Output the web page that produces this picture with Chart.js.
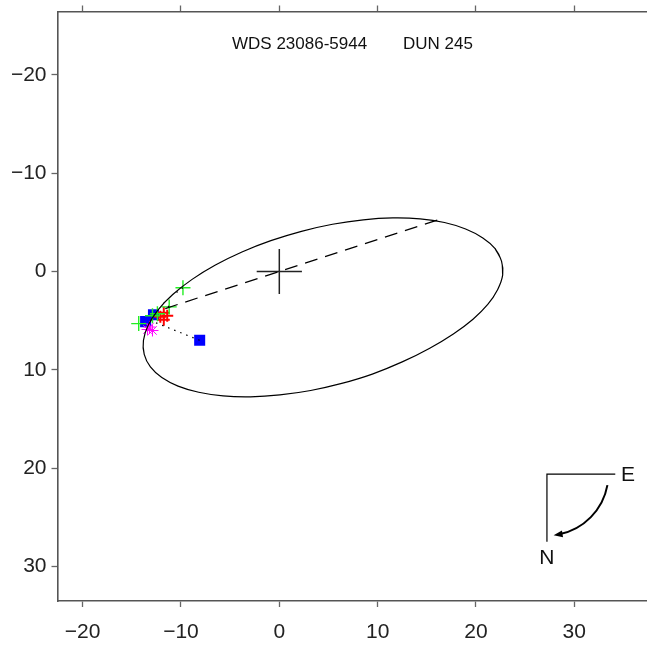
<!DOCTYPE html>
<html><head><meta charset="utf-8">
<script src="https://cdn.jsdelivr.net/npm/chart.js@4/dist/chart.umd.min.js"></script>
<style>html,body{margin:0;padding:0;overflow:hidden;background:#fff}#wrap{position:absolute;left:0;top:0;width:660px;height:650px}</style>
</head><body><div id="wrap"><canvas id="c"></canvas></div>
<script>
// tick labels
const xTicks = [-20, -10, 0, 10, 20, 30];
const yTicks = [-20, -10, 0, 10, 20, 30];
const titleLeft = "WDS 23086-5944";
const titleRight = "DUN 245";

// apparent orbit; first/last points overlap to close the loop smoothly
const orbitX = [21.95,22.6,22.72,22.2,21.2,19.7,17.7,15.3,12.5,9.46,6.35,3.19,0.06,-2.94,-5.72,-8.20,-10.30,-11.95,-13.11,-13.74,-13.82,-13.35,-12.35,-10.84,-8.87,-6.50,-3.80,-0.86,2.25,5.41,8.54,11.54,14.32,16.80,18.95,20.7,21.95,22.6,22.72];
const orbitY = [-2.33,-1.05,0.35,1.85,3.35,4.85,6.35,7.8,9.2,10.44,11.39,12.11,12.56,12.75,12.66,12.29,11.66,10.79,9.71,8.43,7.02,5.50,3.92,2.34,0.80,-0.66,-1.99,-3.14,-4.09,-4.81,-5.26,-5.45,-5.36,-4.99,-4.33,-3.42,-2.33,-1.05,0.35];

// line of nodes
const nodeX = [-11.6, 16.11];
const nodeY = [3.77, -5.24];

// primary star cross
const crossHX = [-2.3, 2.3], crossHY = [0, 0];
const crossVX = [0, 0], crossVY = [-2.3, 2.3];

// observations
const blueX = [-13.6, -12.8, -8.1];
const blueY = [5.1, 4.4, 7.0];
const greenX = [-9.8, -11.2, -14.3, -12.9, -12.4];
const greenY = [1.65, 3.6, 5.3, 4.5, 4.3];
const redX = [-11.75, -11.75, -11.4, -12.1];
const redY = [4.2, 4.9, 4.5, 4.6];
const magX = [-13.2, -12.9, -13.4];
const magY = [5.65, 6.0, 5.9];

// O-C residual segments
const ocX = [[-8.1, -13.1], [-9.8, -10.6], [-11.2, -11.8]];
const ocY = [[7.0, 5.0], [1.65, 2.25], [3.6, 3.2]];

// orientation marker anchor (data units)
const compassCorner = [27.22, 20.61];
const compassEnds = [34.17, 27.5];

const pts = (xs, ys) => xs.map((v, i) => ({x: v, y: ys[i]}));
const minus = v => v < 0 ? '\u2212' + Math.abs(v) : String(v);

const datasets = [
  {data: pts(orbitX, orbitY), showLine: true, tension: 0.4, borderColor: '#000', borderWidth: 1.2, pointRadius: 0, order: 1},
  {data: pts(nodeX, nodeY), showLine: true, borderColor: '#000', borderWidth: 1.2, borderDash: [13, 8], pointRadius: 0, order: 1},
  {data: pts(crossHX, crossHY), showLine: true, borderColor: '#222', borderWidth: 1.5, pointRadius: 0, order: 1},
  {data: pts(crossVX, crossVY), showLine: true, borderColor: '#222', borderWidth: 1.5, pointRadius: 0, order: 1},
  {data: pts(blueX, blueY), pointStyle: 'rect', pointRadius: 7.8, backgroundColor: '#0000ff', borderColor: '#0000ff', borderWidth: 0, order: 6},
  {data: pts(magX, magY), pointStyle: 'star', pointRadius: 6, borderColor: '#ff00ff', borderWidth: 1, order: 5},
  {data: pts(redX, redY), pointStyle: 'cross', pointRadius: 6, borderColor: '#ff0000', borderWidth: 2, order: 4},
  {data: pts(greenX, greenY), pointStyle: 'cross', pointRadius: 7.5, borderColor: '#22ee22', borderWidth: 1.4, order: 3},
];
ocX.forEach((xs, i) => datasets.push({data: pts(xs, ocY[i]), showLine: true, borderColor: '#000', borderWidth: 1.2, borderDash: [1.5, 5], pointRadius: 0, order: 2}));

const overlay = {
  id: 'overlay',
  afterDraw(chart) {
    const {ctx, scales: {x, y}} = chart;
    ctx.save();
    ctx.fillStyle = '#111';
    ctx.font = '17px "Liberation Sans", Arial, sans-serif';
    ctx.textBaseline = 'alphabetic';
    ctx.textAlign = 'left';
    ctx.fillText(titleLeft, 232, 48.5);
    ctx.fillText(titleRight, 403, 48.5);
    // compass
    const cx = x.getPixelForValue(compassCorner[0]), cy = y.getPixelForValue(compassCorner[1]);
    const ex = x.getPixelForValue(compassEnds[0]), ny = y.getPixelForValue(compassEnds[1]);
    ctx.strokeStyle = '#000'; ctx.lineWidth = 1.2;
    ctx.beginPath(); ctx.moveTo(ex, cy); ctx.lineTo(cx, cy); ctx.lineTo(cx, ny); ctx.stroke();
    const r = 61.5, a0 = 10.4 * Math.PI / 180, a1 = 78.5 * Math.PI / 180, a2 = 81 * Math.PI / 180;
    ctx.lineWidth = 2;
    ctx.beginPath(); ctx.arc(cx, cy, r, a0, a1); ctx.stroke();
    const tx = cx + r * Math.cos(a2), ty = cy + r * Math.sin(a2);
    const dx = -Math.sin(a2), dy = Math.cos(a2);
    const px = -dy, py = dx;
    ctx.fillStyle = '#000';
    ctx.beginPath();
    ctx.moveTo(tx + dx * 3, ty + dy * 3);
    ctx.lineTo(tx - dx * 6 + px * 3.5, ty - dy * 6 + py * 3.5);
    ctx.lineTo(tx - dx * 6 - px * 3.5, ty - dy * 6 - py * 3.5);
    ctx.closePath(); ctx.fill();
    ctx.font = '21px "Liberation Sans", Arial, sans-serif';
    ctx.fillStyle = '#111';
    ctx.textAlign = 'center'; ctx.textBaseline = 'middle';
    ctx.fillText('E', 628, cy + 1);
    ctx.fillText('N', cx, 558);
    ctx.restore();
  }
};

const tickFont = {family: '"Liberation Sans", Arial, sans-serif', size: 21};
new Chart(document.getElementById('c'), {
  type: 'scatter',
  data: {datasets},
  plugins: [overlay],
  options: {
    responsive: true, maintainAspectRatio: false, animation: false,
    layout: {padding: {left: 0, top: 0, right: 11, bottom: 0}},
    plugins: {legend: {display: false}, tooltip: {enabled: false}},
    scales: {
      x: {
        type: 'linear', position: 'bottom', min: -22.56, max: 37.6,
        afterBuildTicks: s => { s.ticks = xTicks.map(v => ({value: v})); },
        afterFit: s => { s.height = 49; s.paddingLeft = 0; s.paddingRight = 0; },
        ticks: {callback: v => minus(v), font: tickFont, color: '#222', padding: 13, maxRotation: 0},
        grid: {drawOnChartArea: false, drawTicks: true, tickLength: 6, tickColor: '#666', tickWidth: 1.3},
        border: {display: true, color: '#555', width: 1.6}
      },
      x2: {
        type: 'linear', position: 'top', min: -22.56, max: 37.6,
        afterBuildTicks: s => { s.ticks = xTicks.map(v => ({value: v})); },
        afterFit: s => { s.height = 11.5; s.paddingLeft = 0; s.paddingRight = 0; },
        ticks: {display: false},
        grid: {drawOnChartArea: false, drawTicks: true, tickLength: 6, tickColor: '#666', tickWidth: 1.3},
        border: {display: true, color: '#555', width: 1.6}
      },
      y: {
        type: 'linear', position: 'left', reverse: true, min: -26.46, max: 33.53,
        afterBuildTicks: s => { s.ticks = yTicks.map(v => ({value: v})); },
        afterFit: s => { s.width = 57.5; s.paddingTop = 0; s.paddingBottom = 0; },
        ticks: {callback: v => minus(v), font: tickFont, color: '#222', padding: 5},
        grid: {drawOnChartArea: false, drawTicks: true, tickLength: 6, tickColor: '#666', tickWidth: 1.3},
        border: {display: true, color: '#555', width: 1.6}
      }
    }
  }
});
</script></body></html>
